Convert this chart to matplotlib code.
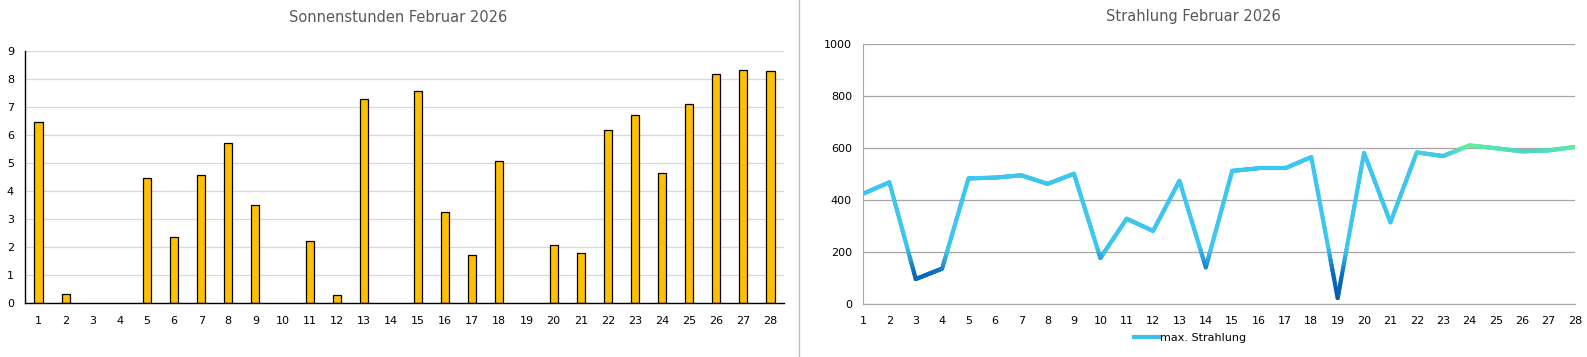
import numpy as np
from matplotlib import pyplot as plt
from matplotlib.collections import LineCollection
from matplotlib.colors import LinearSegmentedColormap
from matplotlib.lines import Line2D

days = list(range(1, 29))
sonnenstunden = [6.46, 0.32, 0, 0, 4.46, 2.35, 4.57, 5.71, 3.50, 0,
                 2.21, 0.29, 7.28, 0, 7.56, 3.25, 1.71, 5.07, 0, 2.07,
                 1.78, 6.18, 6.71, 4.64, 7.10, 8.18, 8.31, 8.28]
strahlung = [424, 468, 96, 136, 483, 486, 495, 462, 501, 177,
             328, 281, 474, 141, 512, 522, 522, 565, 23, 581,
             314, 583, 569, 610, 599, 587, 591, 604]

W, H = 1587, 357
fig = plt.figure(figsize=(W / 100, H / 100), dpi=100)
title_col = '#595959'
font = 'DejaVu Sans'
tick_fs = 8

# linkes Diagramm: Sonnenstunden
ax1 = fig.add_axes([25 / W, (H - 303) / H, 759 / W, 252 / H])
edges = ['black' if v > 0 else 'none' for v in sonnenstunden]
ax1.bar(days, sonnenstunden, width=0.3, color='#FFC000', edgecolor=edges, linewidth=0.9, zorder=3)
ax1.set_xlim(0.5, 28.5)
ax1.set_ylim(0, 9)
ax1.set_yticks(range(0, 10))
ax1.set_xticks(days)
ax1.grid(axis='y', color='#D9D9D9', linewidth=0.9, zorder=0)
for s in ['top', 'right']:
    ax1.spines[s].set_visible(False)
ax1.spines['left'].set_linewidth(1.0)
ax1.spines['bottom'].set_linewidth(1.0)
ax1.spines['bottom'].set_zorder(4)
ax1.tick_params(length=0, labelsize=tick_fs, colors='#000000')
ax1.tick_params(axis='y', pad=8)
ax1.tick_params(axis='x', pad=9)
fig.text(398 / W, 1 - 17 / H, 'Sonnenstunden Februar 2026', ha='center', va='center',
         fontsize=10.5, color=title_col, family=font)

# Trennlinie
fig.add_artist(Line2D([799 / W, 799 / W], [0, 1], color='#BFBFBF', linewidth=1.0))

# rechtes Diagramm: Strahlung
ax2 = fig.add_axes([863 / W, (H - 304) / H, 712 / W, 260 / H])
cmap = LinearSegmentedColormap.from_list('str', [
    (0.0, '#005AA8'), (0.12, '#0A6CBC'), (0.21, '#3CC6F0'),
    (0.57, '#3CC6F0'), (0.61, '#66EE99'), (1.0, '#66EE99')])
xs = np.array(days, dtype=float)
ys = np.array(strahlung, dtype=float)
# fein unterteilen, damit der Farbverlauf vertikal wirkt
xf, yf = [], []
for i in range(len(xs) - 1):
    t = np.linspace(0, 1, 30, endpoint=False)
    xf.extend(xs[i] + t * (xs[i + 1] - xs[i]))
    yf.extend(ys[i] + t * (ys[i + 1] - ys[i]))
xf.append(xs[-1])
yf.append(ys[-1])
pts = np.array([xf, yf]).T.reshape(-1, 1, 2)
segs = np.concatenate([pts[:-1], pts[1:]], axis=1)
lc = LineCollection(segs, cmap=cmap, linewidth=3.0, capstyle='round', joinstyle='round', zorder=3)
lc.set_array((np.array(yf[:-1]) + np.array(yf[1:])) / 2)
lc.set_clim(0, 1000)
ax2.add_collection(lc)
ax2.set_xlim(1, 28)
ax2.set_ylim(0, 1000)
ax2.set_xticks(days)
ax2.set_yticks(range(0, 1001, 200))
ax2.grid(axis='y', color='#A6A6A6', linewidth=0.9, zorder=0)
for s in ['top', 'right']:
    ax2.spines[s].set_visible(False)
ax2.spines['left'].set_color('#A6A6A6')
ax2.spines['bottom'].set_color('#A6A6A6')
ax2.tick_params(length=0, labelsize=tick_fs, colors='#000000')
ax2.tick_params(axis='y', pad=8)
ax2.tick_params(axis='x', pad=9)
fig.text(1193 / W, 1 - 17 / H, 'Strahlung Februar 2026', ha='center', va='center',
         fontsize=10.5, color=title_col, family=font)

handle = Line2D([], [], color='#3BC0EE', linewidth=3.0)
fig.legend([handle], ['max. Strahlung'], loc='center', bbox_to_anchor=(1190 / W, 1 - 338 / H),
           frameon=False, fontsize=tick_fs, handlelength=2.2, handletextpad=0.1)

fig.savefig('out.png', dpi=100)
